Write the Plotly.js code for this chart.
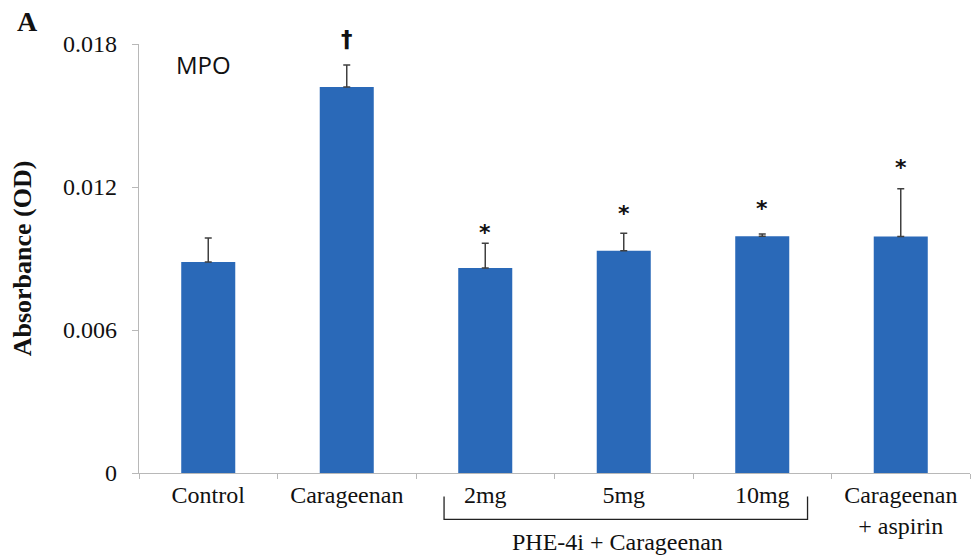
<!DOCTYPE html>
<html>
<head>
<meta charset="utf-8">
<script src="https://cdn.plot.ly/plotly-3.0.1.min.js"></script>
<style>html,body{margin:0;padding:0;background:#fff;}#chart{width:972px;height:556px;}</style>
</head>
<body>
<div id="chart"></div>
<script>
const categories = ["Control", "Carageenan", "2mg", "5mg", "10mg", "Carageenan<br>+ aspirin"];
const values = [0.00885, 0.01620, 0.00860, 0.00933, 0.00993, 0.00992];
const errorsPlus = [0.00101, 0.00092, 0.00104, 0.00073, 0.00010, 0.00201];
const marks = ["", "†", "*", "*", "*", "*"];
const yTickVals = [0, 0.006, 0.012, 0.018];
const yTickText = ["0", "0.006", "0.012", "0.018"];

const serif = "Liberation Serif, Times New Roman, serif";
// pixel gap between the top of each error bar and the centre of its mark
const markGap = [0, 25, 16, 25, 30, 26];

const trace = {
  type: "bar",
  x: categories,
  y: values,
  width: 0.39,
  marker: {color: "#2a69b8", line: {width: 0}},
  error_y: {type: "data", symmetric: false, array: errorsPlus, arrayminus: values.map(() => 0),
            color: "#404040", thickness: 1.5, width: 3.5},
  hoverinfo: "none"
};

const annotations = [];
categories.forEach((c, i) => {
  if (marks[i]) {
    const dag = marks[i] === "†";
    annotations.push({
      x: c, y: values[i] + errorsPlus[i], xref: "x", yref: "y",
      text: "<b>" + marks[i] + "</b>", showarrow: false, yanchor: "middle",
      yshift: dag ? markGap[i] + 1 : markGap[i] - 5,
      font: {family: "DejaVu Sans, sans-serif", size: dag ? 23 : 22, color: "#111"}
    });
  }
});
annotations.push({x: (203 - 139) / 831, y: 0.01715, xref: "paper", yref: "y", text: "MPO", showarrow: false,
  xanchor: "center", yanchor: "middle", font: {family: "Open Sans, Noto Sans, sans-serif", size: 24, color: "#111"}});
annotations.push({x: (27 - 139) / 831, y: 1 + (44 - 22) / 429, xref: "paper", yref: "paper", text: "<b>A</b>",
  showarrow: false, xanchor: "center", yanchor: "middle", font: {family: serif, size: 28, color: "#111"}});
annotations.push({x: (617 - 139) / 831, y: -(542 - 473) / 429, xref: "paper", yref: "paper",
  text: "PHE-4i + Carageenan", showarrow: false,
  xanchor: "center", yanchor: "middle", font: {family: serif, size: 24, color: "#111"}});

const layout = {
  width: 972, height: 556,
  margin: {l: 139, r: 2, t: 44, b: 83},
  paper_bgcolor: "#fff", plot_bgcolor: "#fff",
  showlegend: false,
  xaxis: {
    type: "category", showgrid: false, zeroline: false,
    showline: true, linecolor: "#b8b8b8", linewidth: 1.2,
    ticks: "outside", tickson: "boundaries", ticklen: 5, tickcolor: "#b8b8b8",
    tickfont: {family: serif, size: 24, color: "#111"}
  },
  yaxis: {
    range: [0, 0.018], showgrid: false, zeroline: false,
    showline: true, linecolor: "#b8b8b8", linewidth: 1.2,
    ticks: "outside", ticklen: 6, tickcolor: "#b8b8b8",
    ticklabelstandoff: 10,
    tickvals: yTickVals, ticktext: yTickText,
    tickfont: {family: serif, size: 24, color: "#111"},
    title: {text: "<b>Absorbance (OD)</b>", font: {family: serif, size: 26, color: "#111"}, standoff: 24}
  },
  annotations: annotations,
  shapes: [
    {type: "path", xref: "paper", yref: "paper",
     path: "M 0.3671 -0.055 L 0.3671 -0.108 L 0.8045 -0.108 L 0.8045 -0.055",
     line: {color: "#222", width: 1.3}}
  ]
};

Plotly.newPlot("chart", [trace], layout, {staticPlot: true});
</script>
</body>
</html>
